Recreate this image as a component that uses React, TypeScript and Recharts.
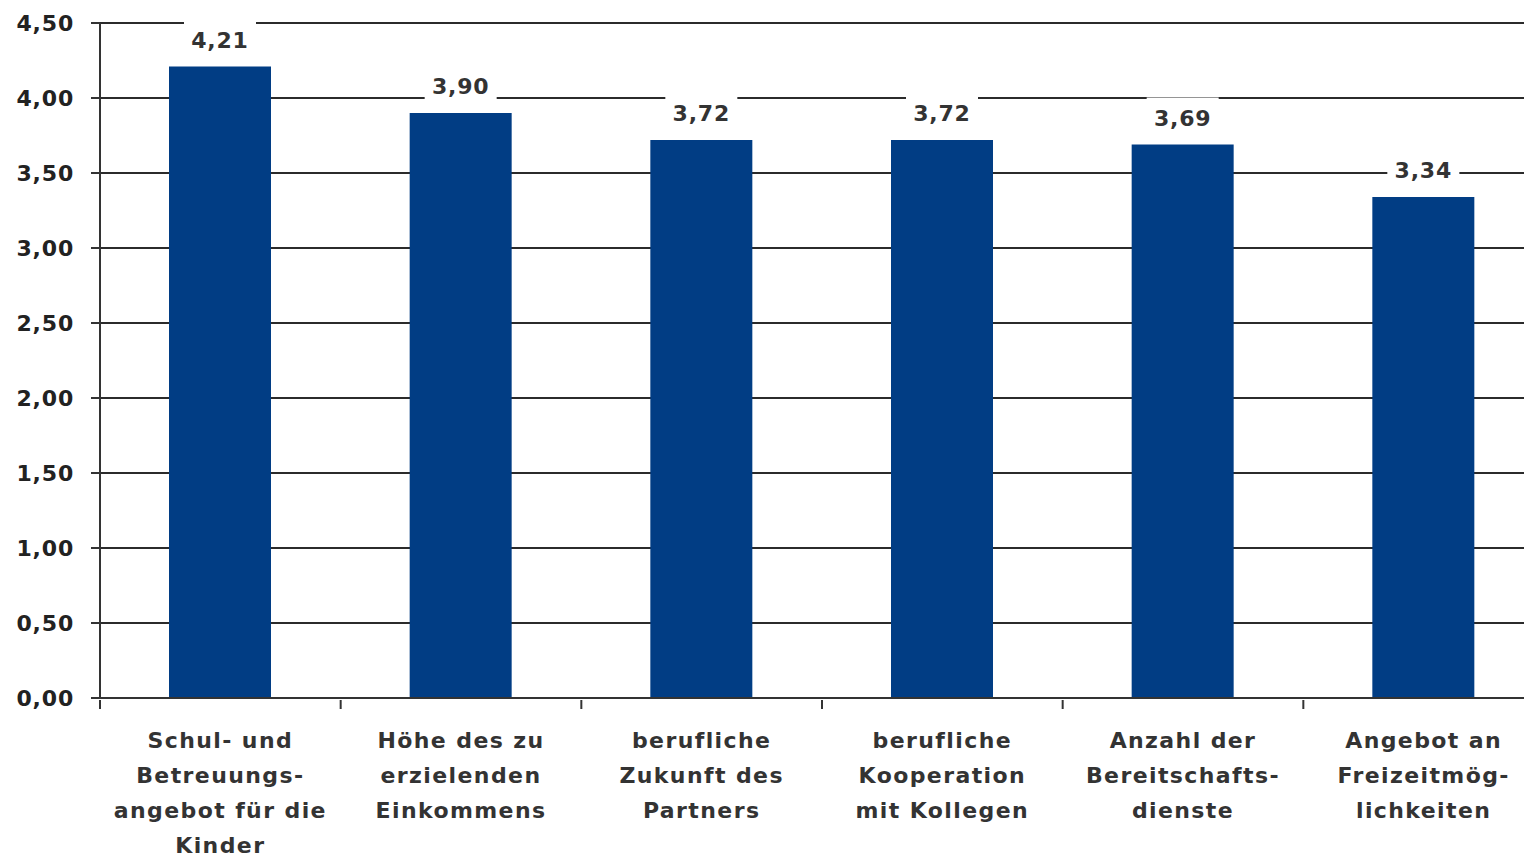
import { BarChart, Bar, XAxis, YAxis, CartesianGrid, LabelList } from "recharts";

const categories = [
  "Schul- und\nBetreuungs-\nangebot für die\nKinder",
  "Höhe des zu\nerzielenden\nEinkommens",
  "berufliche\nZukunft des\nPartners",
  "berufliche\nKooperation\nmit Kollegen",
  "Anzahl der\nBereitschafts-\ndienste",
  "Angebot an\nFreizeitmög-\nlichkeiten",
];
const values = [4.21, 3.9, 3.72, 3.72, 3.69, 3.34];
const yTicks = [0, 0.5, 1, 1.5, 2, 2.5, 3, 3.5, 4, 4.5];

const data = categories.map((name, i) => ({ name, value: values[i] }));

const FONT = "'DejaVu Sans', Verdana, sans-serif";
const fmt = (v: number) => v.toFixed(2).replace(".", ",");

function CategoryTick(props: any) {
  const { x, y, payload, index, width, visibleTicksCount } = props;
  const lines = String(payload.value).split("\n");
  const half = width / visibleTicksCount / 2;
  return (
    <g>
      {index === 0 && (
        <line x1={x - half} x2={x - half} y1={y} y2={y + 9} stroke="#333" strokeWidth={2} />
      )}
      <line x1={x + half} x2={x + half} y1={y} y2={y + 9} stroke="#333" strokeWidth={2} />
      <text
        x={x}
        y={y}
        textAnchor="middle"
        fontFamily={FONT}
        fontWeight="bold"
        fontSize={22}
        letterSpacing={1.4}
        fill="#333"
      >
        {lines.map((l, i) => (
          <tspan key={i} x={x} dy={i === 0 ? 48 : 35}>
            {l}
          </tspan>
        ))}
      </text>
    </g>
  );
}

function ValueLabel(props: any) {
  const { x, y, width, value } = props;
  const cx = x + width / 2;
  const base = y - 19;
  return (
    <g>
      <rect x={cx - 36} y={base - 28} width={72} height={36} fill="#fff" />
      <text
        x={cx}
        y={base}
        textAnchor="middle"
        fontFamily={FONT}
        fontWeight="bold"
        fontSize={22}
        letterSpacing={0.8}
        fill="#333"
      >
        {fmt(value)}
      </text>
    </g>
  );
}

export default function App() {
  return (
    <div
      style={{
        position: "fixed",
        left: 0,
        top: 0,
        width: 1524,
        height: 857,
        overflow: "hidden",
        background: "#fff",
      }}
    >
      <BarChart
        width={1560}
        height={857}
        data={data}
        margin={{ top: 23, right: 16, bottom: 0, left: 0 }}
        barCategoryGap={0}
      >
        <CartesianGrid horizontal vertical={false} stroke="#2b2b2b" strokeWidth={2} />
        <XAxis
          dataKey="name"
          interval={0}
          height={159}
          tickLine={false}
          tickSize={0}
          axisLine={{ stroke: "#333", strokeWidth: 2 }}
          tick={<CategoryTick />}
        />
        <YAxis
          domain={[0, 4.5]}
          ticks={yTicks}
          width={100}
          tickSize={9}
          interval={0}
          axisLine={{ stroke: "#333", strokeWidth: 2 }}
          tickLine={{ stroke: "#333", strokeWidth: 2 }}
          tickFormatter={fmt}
          tick={{ fontFamily: FONT, fontWeight: "bold", fontSize: 22, fill: "#222", letterSpacing: 0.8, dx: -15 }}
        />
        <Bar dataKey="value" fill="#013D84" barSize={102} isAnimationActive={false}>
          <LabelList dataKey="value" content={<ValueLabel />} />
        </Bar>
      </BarChart>
    </div>
  );
}
